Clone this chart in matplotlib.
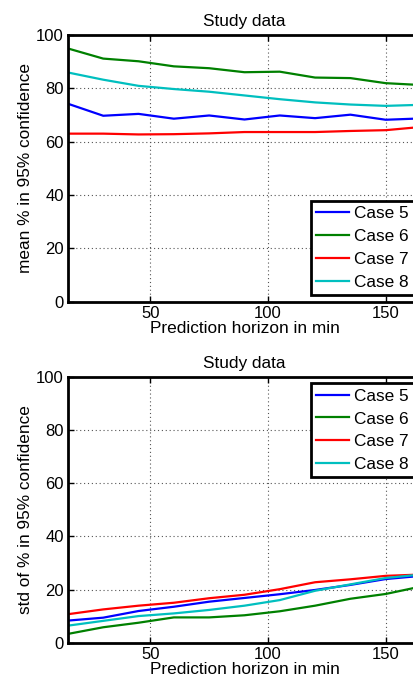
import numpy as np
import matplotlib
matplotlib.use("Agg")
import matplotlib.pyplot as plt

plt.rcParams['font.family'] = ['Liberation Sans', 'DejaVu Sans']

# prediction horizon in minutes
horizon = [15, 30, 45, 60, 75, 90, 105, 120, 135, 150, 165]

# mean % in 95% confidence
mean_case5 = [74.2, 69.7, 70.4, 68.6, 69.8, 68.3, 69.8, 68.8, 70.1, 68.2, 68.7]
mean_case6 = [94.9, 91.1, 90.1, 88.2, 87.5, 86.0, 86.2, 84.0, 83.8, 81.9, 81.2]
mean_case7 = [63.0, 63.0, 62.7, 62.8, 63.1, 63.6, 63.6, 63.6, 64.0, 64.3, 65.5]
mean_case8 = [85.9, 83.2, 80.9, 79.7, 78.7, 77.3, 75.9, 74.7, 73.9, 73.4, 73.8]

# std of % in 95% confidence
std_case5 = [8.4, 9.5, 12.0, 13.6, 15.5, 16.9, 18.3, 19.9, 21.8, 24.0, 25.2]
std_case6 = [3.4, 5.9, 7.6, 9.6, 9.6, 10.4, 11.9, 14.0, 16.6, 18.4, 21.2]
std_case7 = [10.8, 12.6, 14.0, 15.1, 16.8, 18.1, 20.2, 22.8, 23.9, 25.2, 25.7]
std_case8 = [6.5, 8.3, 10.1, 11.1, 12.4, 14.0, 16.1, 19.6, 22.0, 24.4, 25.7]

case_names = ["Case 5", "Case 6", "Case 7", "Case 8"]
colors = ["#0000ff", "#008000", "#ff0000", "#00bfbf"]

fig = plt.figure(figsize=(4.14, 6.83), dpi=100)
ax1 = fig.add_axes([0.164, 0.558, 0.853, 0.391])
ax2 = fig.add_axes([0.164, 0.0586, 0.853, 0.390])


def style_axes(ax, ylabel):
    ax.set_xlim(15, 165)
    ax.set_ylim(0, 100)
    ax.set_xticks([50, 100, 150])
    ax.set_yticks([0, 20, 40, 60, 80, 100])
    ax.grid(True, color="#555555", linestyle=(0, (1, 2.5)), linewidth=0.8)
    ax.tick_params(direction="in", top=True, right=True, labelsize=12,
                   length=4, width=1, pad=3)
    for s in ax.spines.values():
        s.set_linewidth(2)
    ax.set_title("Study data", fontsize=12.4, pad=6)
    ax.set_xlabel("Prediction horizon in min", fontsize=12.4, labelpad=0)
    ax.set_ylabel(ylabel, fontsize=12.4, labelpad=2)


mean_series = [mean_case5, mean_case6, mean_case7, mean_case8]
std_series = [std_case5, std_case6, std_case7, std_case8]

for vals, c, name in zip(mean_series, colors, case_names):
    ax1.plot(horizon, vals, color=c, linewidth=1.6, label=name)
for vals, c, name in zip(std_series, colors, case_names):
    ax2.plot(horizon, vals, color=c, linewidth=1.6, label=name)

style_axes(ax1, "mean % in 95% confidence")
style_axes(ax2, "std of % in 95% confidence")

for ax, loc in [(ax1, "lower right"), (ax2, "upper right")]:
    leg = ax.legend(loc=loc, fontsize=12.4, fancybox=False, framealpha=1,
                    handlelength=1.9, handletextpad=0.3, labelspacing=0.45,
                    borderpad=0.3, borderaxespad=0.4)
    leg.get_frame().set_edgecolor("black")
    leg.get_frame().set_linewidth(2)

fig.savefig("out.png", dpi=100)
